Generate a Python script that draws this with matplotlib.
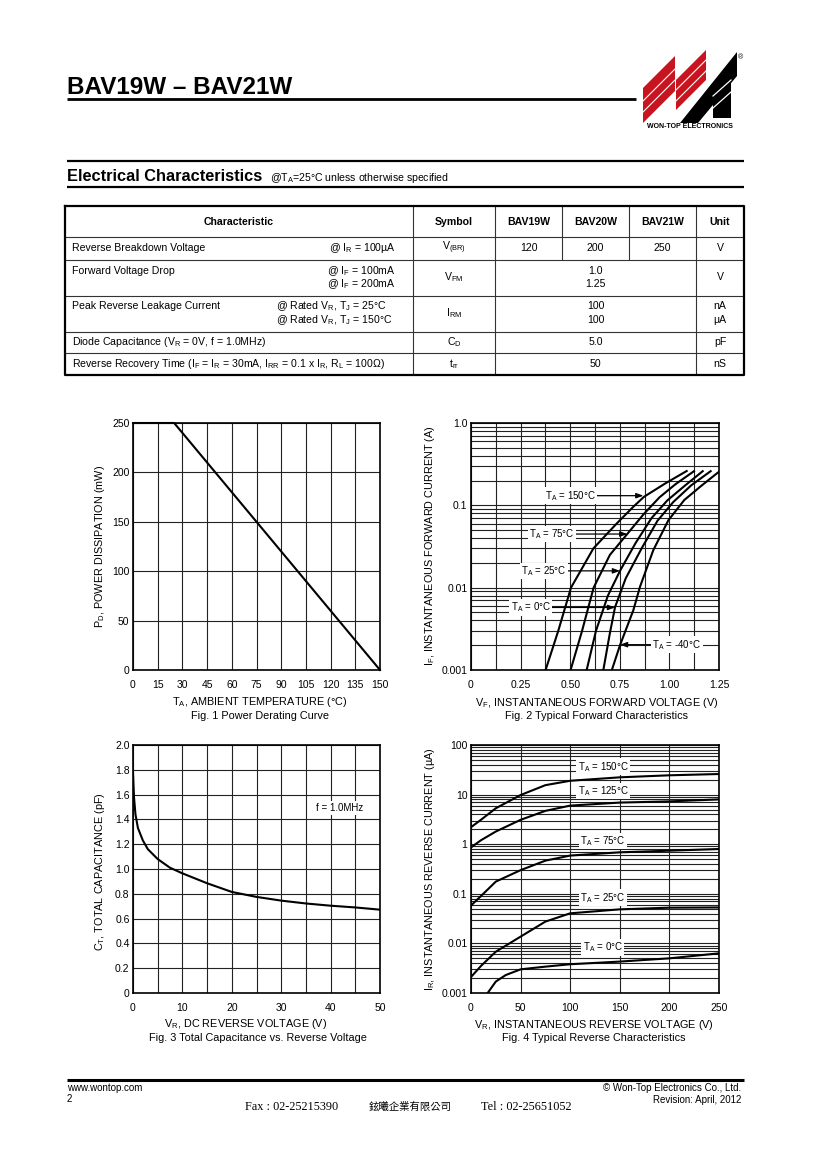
#!/usr/bin/env python3

from matplotlib import pyplot as plt
from matplotlib import ticker
from matplotlib.patches import Polygon
import numpy as np

plt.rcParams['font.family'] = ['Liberation Sans', 'DejaVu Sans']
plt.rcParams['mathtext.fontset'] = 'custom'
plt.rcParams['mathtext.rm'] = 'Liberation Sans'
plt.rcParams['mathtext.it'] = 'Liberation Sans:italic'
plt.rcParams['mathtext.bf'] = 'Liberation Sans:bold'

# ---- data ----
# Fig.1 power derating
ta = [0, 25, 150]
pd_mw = [250, 250, 0]

# Fig.2 forward characteristics (V, A)
vf_150 = [0.376, 0.44, 0.504, 0.617, 0.734, 0.818, 0.872, 0.98, 1.087]
if_150 = [0.001, 0.003, 0.01, 0.03, 0.06, 0.096, 0.127, 0.185, 0.261]
vf_75 = [0.502, 0.56, 0.618, 0.70, 0.788, 0.87, 0.95, 1.03, 1.124]
if_75 = [0.001, 0.003, 0.01, 0.025, 0.045, 0.078, 0.125, 0.18, 0.26]
vf_25 = [0.583, 0.63, 0.69, 0.751, 0.83, 0.91, 0.99, 1.08, 1.168]
if_25 = [0.001, 0.003, 0.008, 0.016, 0.035, 0.07, 0.115, 0.175, 0.26]
vf_0 = [0.667, 0.70, 0.726, 0.78, 0.86, 0.94, 1.02, 1.11, 1.208]
if_0 = [0.001, 0.0028, 0.0058, 0.013, 0.03, 0.065, 0.11, 0.175, 0.26]
vf_m40 = [0.71, 0.751, 0.818, 0.852, 0.919, 0.995, 1.075, 1.165, 1.25]
if_m40 = [0.001, 0.002, 0.0053, 0.0103, 0.0286, 0.066, 0.116, 0.176, 0.256]

# Fig.3 capacitance
vr_c = [0, 0.2, 0.5, 1, 2, 3, 5, 7.5, 10, 15, 20, 25, 30, 35, 40, 45, 50]
ct_pf = [1.78, 1.58, 1.44, 1.33, 1.23, 1.16, 1.08, 1.01, 0.965, 0.885, 0.815,
         0.775, 0.745, 0.722, 0.704, 0.69, 0.672]

# Fig.4 reverse characteristics (V, uA)
vr = [0, 10, 25, 50, 75, 100, 150, 200, 250]
ir_150 = [2.2, 3.1, 5.3, 9.8, 15.5, 19, 22.3, 24.5, 26]
ir_125 = [0.86, 1.2, 1.8, 3.1, 4.7, 6.0, 6.9, 7.3, 8.0]
ir_75 = [0.058, 0.09, 0.176, 0.30, 0.466, 0.59, 0.686, 0.74, 0.80]
ir_25 = [0.0021, 0.0035, 0.0068, 0.0137, 0.0275, 0.0404, 0.0486, 0.0525, 0.053]
vr_0 = [16.8, 25, 35, 50, 75, 100, 150, 200, 250]
ir_0 = [0.001, 0.0017, 0.0023, 0.003, 0.0034, 0.0038, 0.0043, 0.005, 0.0063]

# table
tbl_head = ['Characteristic', 'Symbol', 'BAV19W', 'BAV20W', 'BAV21W', 'Unit']
tbl_vbr = ['120', '200', '250']

W, H = 820, 1160
fig = plt.figure(figsize=(W / 100, H / 100), dpi=100)

# page layer in pixel coordinates
page = fig.add_axes([0, 0, 1, 1])
page.set_xlim(0, W)
page.set_ylim(H, 0)
page.axis('off')


def place(x0, y0, x1, y1):
    return fig.add_axes([x0 / W, 1 - y1 / H, (x1 - x0) / W, (y1 - y0) / H])


def hline(y, x0, x1, lw, c='black'):
    page.plot([x0, x1], [y, y], color=c, lw=lw, solid_capstyle='butt')


def vline(x, y0, y1, lw, c='black'):
    page.plot([x, x], [y0, y1], color=c, lw=lw, solid_capstyle='butt')


# ---- header ----
page.text(67, 94, 'BAV19W – BAV21W', fontsize=17.5, fontweight='bold', va='baseline')
hline(99, 67, 636, 2.0)

# logo
red = '#c8141e'
page.add_patch(Polygon([(643, 123), (643, 88), (675, 56), (675, 91)], closed=True, fc=red, ec='none'))
page.add_patch(Polygon([(676, 110), (676, 80), (706, 50), (706, 80)], closed=True, fc=red, ec='none'))
page.add_patch(Polygon([(680, 123), (698, 123), (737, 76), (737, 52)], closed=True, fc='black', ec='none'))
page.add_patch(Polygon([(713, 118), (731, 118), (731, 66), (713, 86)], closed=True, fc='black', ec='none'))
for d in [11, 22]:
    page.plot([643, 675], [123 - d, 91 - d], color='white', lw=0.8)
    page.plot([676, 706], [110 - d + 2, 80 - d + 2], color='white', lw=0.8)
page.plot([713, 731], [96, 80], color='white', lw=0.9)
page.plot([713, 731], [108, 92], color='white', lw=0.9)
page.text(690, 127, 'WON-TOP ELECTRONICS', fontsize=5, fontweight='bold', ha='center', va='center',
          family=['Liberation Sans Narrow', 'Liberation Sans'])
page.text(741, 58, '®', fontsize=5, ha='center', va='center')

# ---- section heading ----
hline(161, 67, 744, 1.6)
page.text(67, 181, 'Electrical Characteristics', fontsize=11.8, fontweight='bold', va='baseline')
page.text(270, 181, r'@T$_{\rm A}$=25°C unless otherwise specified', fontsize=7.6, va='baseline')
hline(187, 67, 744, 1.6)

# ---- table ----
tx0, tx1, ty0, ty1 = 65, 744, 206, 375
rows = [237, 260, 296, 332, 353]
for y in rows:
    hline(y, tx0, tx1, 0.8, '#333')
for x in [413, 495, 696]:
    vline(x, ty0, ty1, 0.8, '#333')
for x in [562, 629]:
    vline(x, ty0, 260, 0.8, '#333')
page.plot([tx0, tx1, tx1, tx0, tx0], [ty0, ty0, ty1, ty1, ty0], color='black', lw=1.6)

fs = 7.6
hc = [239, 454, 528.5, 595.5, 662.5, 720]
for x, t in zip(hc, tbl_head):
    page.text(x, 222, t, fontsize=fs, fontweight='bold', ha='center', va='center')

mid = 595.5
uc = 720
# row 1
page.text(72, 248, 'Reverse Breakdown Voltage', fontsize=fs, va='center')
page.text(396, 248, r'@ I$_{\rm R}$ = 100µA', fontsize=fs, va='center', ha='right')
page.text(454, 248, r'V$_{\rm (BR)}$', fontsize=fs, va='center', ha='center')
for x, t in zip(hc[2:5], tbl_vbr):
    page.text(x, 248, t, fontsize=fs, va='center', ha='center')
page.text(uc, 248, 'V', fontsize=fs, va='center', ha='center')
# row 2
page.text(72, 271, 'Forward Voltage Drop', fontsize=fs, va='center')
page.text(396, 271, r'@ I$_{\rm F}$ = 100mA', fontsize=fs, va='center', ha='right')
page.text(396, 284, r'@ I$_{\rm F}$ = 200mA', fontsize=fs, va='center', ha='right')
page.text(454, 277, r'V$_{\rm FM}$', fontsize=fs, va='center', ha='center')
page.text(mid, 271, '1.0', fontsize=fs, va='center', ha='center')
page.text(mid, 284, '1.25', fontsize=fs, va='center', ha='center')
page.text(uc, 277, 'V', fontsize=fs, va='center', ha='center')
# row 3
page.text(72, 306, 'Peak Reverse Leakage Current', fontsize=fs, va='center')
page.text(276, 306, r'@ Rated V$_{\rm R}$, T$_{\rm J}$ = 25°C', fontsize=fs, va='center')
page.text(276, 320, r'@ Rated V$_{\rm R}$, T$_{\rm J}$ = 150°C', fontsize=fs, va='center')
page.text(454, 313, r'I$_{\rm RM}$', fontsize=fs, va='center', ha='center')
page.text(mid, 306, '100', fontsize=fs, va='center', ha='center')
page.text(mid, 320, '100', fontsize=fs, va='center', ha='center')
page.text(uc, 306, 'nA', fontsize=fs, va='center', ha='center')
page.text(uc, 320, 'µA', fontsize=fs, va='center', ha='center')
# row 4
page.text(72, 342, r'Diode Capacitance (V$_{\rm R}$ = 0V, f = 1.0MHz)', fontsize=fs, va='center')
page.text(454, 342, r'C$_{\rm D}$', fontsize=fs, va='center', ha='center')
page.text(mid, 342, '5.0', fontsize=fs, va='center', ha='center')
page.text(uc, 342, 'pF', fontsize=fs, va='center', ha='center')
# row 5
page.text(72, 364, r'Reverse Recovery Time (I$_{\rm F}$ = I$_{\rm R}$ = 30mA, I$_{\rm RR}$ = 0.1 x I$_{\rm R}$, R$_{\rm L}$ = 100Ω)',
          fontsize=fs, va='center')
page.text(454, 364, r't$_{\rm rr}$', fontsize=fs, va='center', ha='center')
page.text(mid, 364, '50', fontsize=fs, va='center', ha='center')
page.text(uc, 364, 'nS', fontsize=fs, va='center', ha='center')


# ---- charts ----
def style(ax):
    for s in ax.spines.values():
        s.set_linewidth(1.2)
        s.set_color('black')
    ax.tick_params(which='both', length=0, labelsize=7.5)
    ax.tick_params(axis='x', pad=7)
    ax.tick_params(axis='y', pad=2.5)
    ax.grid(which='both', color='#222', lw=0.8)
    ax.set_axisbelow(True)


lab = 7.8
curve = dict(color='black', lw=1.5)

# Fig.1
ax1 = place(133, 423, 380, 670)
ax1.plot(ta, pd_mw, clip_on=False, zorder=5, **curve)
ax1.set_xlim(0, 150)
ax1.set_ylim(0, 250)
ax1.set_xticks(np.arange(0, 151, 15))
ax1.set_yticks(np.arange(0, 251, 50))
style(ax1)
page.text(260, 702, r'T$_{\rm A}$, AMBIENT TEMPERATURE (°C)', fontsize=lab, ha='center', va='center')
page.text(260, 716, 'Fig. 1 Power Derating Curve', fontsize=lab, ha='center', va='center')
page.text(100, 546, r'P$_{\rm D}$, POWER DISSIPATION (mW)', fontsize=lab, ha='center', va='center', rotation=90)

# Fig.2
ax2 = place(471, 423, 719, 670)
for v, i in [(vf_150, if_150), (vf_75, if_75), (vf_25, if_25), (vf_0, if_0), (vf_m40, if_m40)]:
    ax2.plot(v, i, **curve)
ax2.set_yscale('log')
ax2.set_xlim(0, 1.25)
ax2.set_ylim(0.001, 1.0)
ax2.set_xticks([0, 0.25, 0.5, 0.75, 1.0, 1.25])
ax2.set_xticklabels(['0', '0.25', '0.50', '0.75', '1.00', '1.25'])
ax2.xaxis.set_minor_locator(ticker.FixedLocator([0.125, 0.375, 0.625, 0.875, 1.125]))
ax2.set_yticks([0.001, 0.01, 0.1, 1.0])
ax2.set_yticklabels(['0.001', '0.01', '0.1', '1.0'])
ax2.yaxis.set_minor_locator(ticker.LogLocator(base=10, subs=np.arange(2, 10)))
ax2.yaxis.set_minor_formatter(ticker.NullFormatter())
style(ax2)
arrow = dict(arrowstyle='-|>,head_length=0.6,head_width=0.22', color='black', lw=0.9,
             shrinkA=0, shrinkB=0)
box = dict(boxstyle='square,pad=0.15', fc='white', ec='none')
ann2 = [('150', (0.499, 0.131), (0.869, 0.131)),
        ('75', (0.407, 0.0448), (0.788, 0.0448)),
        ('25', (0.368, 0.0160), (0.751, 0.0160)),
        ('0', (0.302, 0.00575), (0.726, 0.00575)),
        ('-40', (1.037, 0.00203), (0.751, 0.00203))]
for t, xyt, xy in ann2:
    ax2.annotate(r'T$_{\rm A}$ = %s°C' % t, xy=xy, xytext=xyt, fontsize=7, ha='center', va='center',
                 bbox=box, arrowprops=arrow)
page.text(597, 703, r'V$_{\rm F}$, INSTANTANEOUS FORWARD VOLTAGE (V)', fontsize=lab, ha='center', va='center')
page.text(597, 716, 'Fig. 2 Typical Forward Characteristics', fontsize=lab, ha='center', va='center')
page.text(430, 546, r'I$_{\rm F}$, INSTANTANEOUS FORWARD CURRENT (A)', fontsize=lab, ha='center', va='center',
          rotation=90)

# Fig.3
ax3 = place(133, 745, 380, 993)
ax3.plot(vr_c, ct_pf, **curve)
ax3.set_xlim(0, 50)
ax3.set_ylim(0, 2.0)
ax3.set_xticks(np.arange(0, 51, 10))
ax3.xaxis.set_minor_locator(ticker.MultipleLocator(5))
ax3.set_yticks(np.arange(0, 2.01, 0.2))
ax3.set_yticklabels(['0'] + ['%.1f' % v for v in np.arange(0.2, 2.01, 0.2)])
style(ax3)
ax3.text(41.8, 1.49, 'f = 1.0MHz', fontsize=7, ha='center', va='center',
         bbox=dict(boxstyle='square,pad=0.2', fc='white', ec='none'))
page.text(246, 1024, r'V$_{\rm R}$, DC REVERSE VOLTAGE (V)', fontsize=lab, ha='center', va='center')
page.text(258, 1038, 'Fig. 3 Total Capacitance vs. Reverse Voltage', fontsize=lab, ha='center', va='center')
page.text(100, 872, r'C$_{\rm T}$, TOTAL CAPACITANCE (pF)', fontsize=lab, ha='center', va='center', rotation=90)

# Fig.4
ax4 = place(471, 745, 719, 993)
for i in [ir_150, ir_125, ir_75, ir_25]:
    ax4.plot(vr, i, **curve)
ax4.plot(vr_0, ir_0, **curve)
ax4.set_yscale('log')
ax4.set_xlim(0, 250)
ax4.set_ylim(0.001, 100)
ax4.set_xticks(np.arange(0, 251, 50))
ax4.set_yticks([0.001, 0.01, 0.1, 1, 10, 100])
ax4.set_yticklabels(['0.001', '0.01', '0.1', '1', '10', '100'])
ax4.yaxis.set_minor_locator(ticker.LogLocator(base=10, subs=np.arange(2, 10)))
ax4.yaxis.set_minor_formatter(ticker.NullFormatter())
style(ax4)
lbl4 = [('150', 36.5), ('125', 11.8), ('75', 1.16), ('25', 0.0835), ('0', 0.0083)]
for t, y in lbl4:
    ax4.text(133, y, r'T$_{\rm A}$ = %s°C' % t, fontsize=7, ha='center', va='center',
             bbox=dict(boxstyle='square,pad=0.15', fc='white', ec='none'))
page.text(594, 1025, r'V$_{\rm R}$, INSTANTANEOUS REVERSE VOLTAGE (V)', fontsize=lab, ha='center', va='center')
page.text(594, 1038, 'Fig. 4 Typical Reverse Characteristics', fontsize=lab, ha='center', va='center')
page.text(430, 869, r'I$_{\rm R}$, INSTANTANEOUS REVERSE CURRENT (µA)', fontsize=lab, ha='center', va='center',
          rotation=90)

# ---- footer ----
hline(1080, 67, 744, 2.2)
page.text(67, 1088, 'www.wontop.com', fontsize=7, va='center')
page.text(67, 1099, '2', fontsize=7, va='center')
page.text(741, 1088, '© Won-Top Electronics Co., Ltd.', fontsize=7, va='center', ha='right')
page.text(741, 1100, 'Revision: April, 2012', fontsize=7, va='center', ha='right')
page.text(245, 1107, 'Fax : 02-25215390', fontsize=8.8, va='center', family=['Liberation Serif', 'DejaVu Serif'])
page.text(369, 1107, '鉉曦企業有限公司', fontsize=7.5, va='center', family=['Noto Sans CJK TC', 'DejaVu Sans'])
page.text(481, 1107, 'Tel : 02-25651052', fontsize=8.8, va='center', family=['Liberation Serif', 'DejaVu Serif'])

plt.savefig('out.png', dpi=100)
